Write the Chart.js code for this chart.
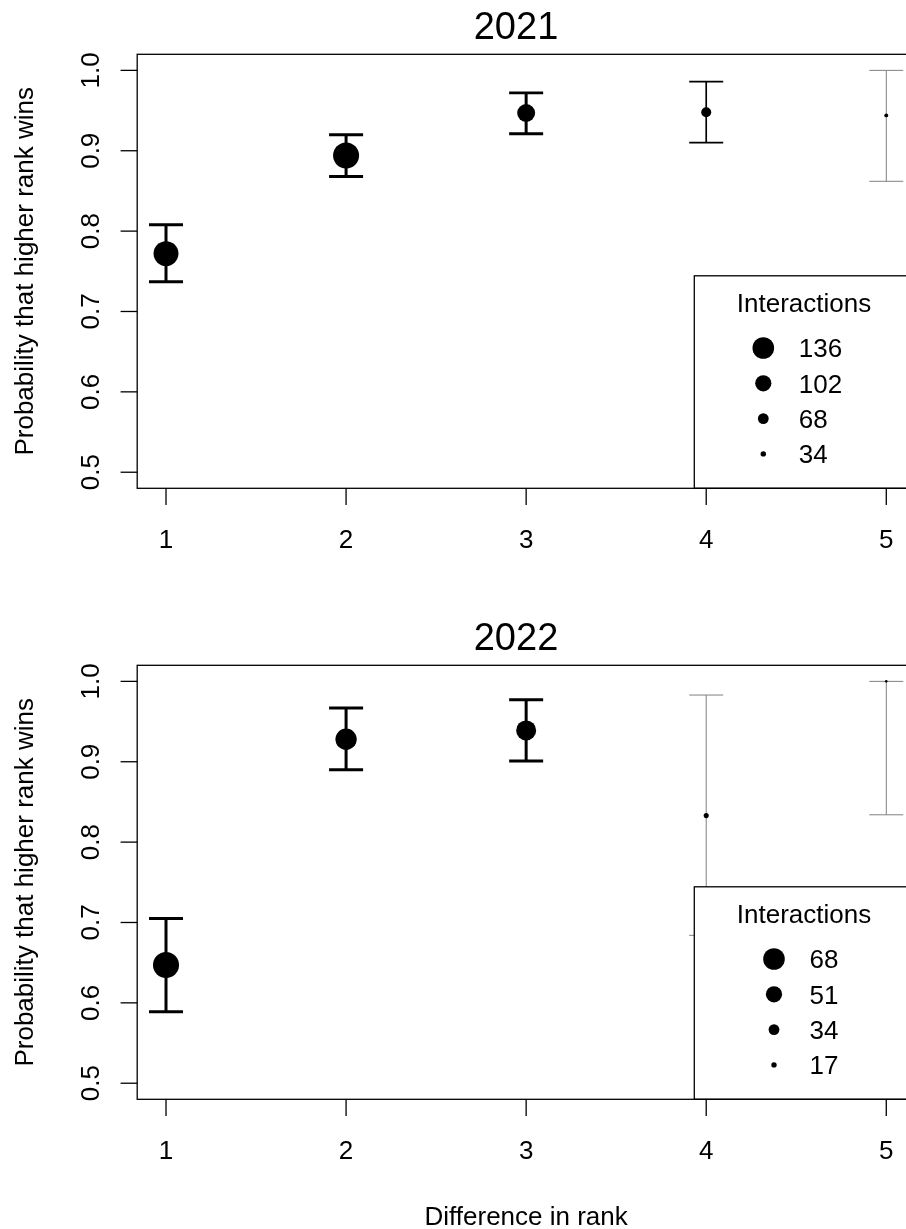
<!DOCTYPE html>
<html>
<head>
<meta charset="utf-8">
<script src="https://cdn.jsdelivr.net/npm/chart.js@4.4.0/dist/chart.umd.min.js"></script>
<style>
  html, body { margin: 0; padding: 0; background: #fff; overflow: hidden; }
  #wrap { position: relative; width: 906px; height: 1229px; overflow: hidden; }
  canvas { position: absolute; left: 0; }
</style>
</head>
<body>
<div id="wrap">
  <canvas id="chart2021" width="906" height="610" style="top:0px"></canvas>
  <canvas id="chart2022" width="906" height="618" style="top:611px"></canvas>
</div>
<script>
const ranks = [1, 2, 3, 4, 5];
const xTicks = [1, 2, 3, 4, 5];
const yTicks = [0.5, 0.6, 0.7, 0.8, 0.9, 1.0];
const yTickLabels = ["0.5", "0.6", "0.7", "0.8", "0.9", "1.0"];

// 2021
const est2021 = [0.772, 0.894, 0.947, 0.948, 0.944];
const lower2021 = [0.737, 0.868, 0.921, 0.910, 0.862];
const upper2021 = [0.808, 0.920, 0.972, 0.986, 1.0];
const interactions2021 = [157, 164, 113, 63, 25];
const legend2021 = [136, 102, 68, 34];

// 2022
const est2022 = [0.647, 0.928, 0.939, 0.833, 1.0];
const lower2022 = [0.589, 0.890, 0.901, 0.684, 0.834];
const upper2022 = [0.705, 0.967, 0.977, 0.983, 1.0];
const interactions2022 = [82, 67, 63, 16, 8];
const legend2022 = [68, 51, 34, 17];

const yTitle = "Probability that higher rank wins";
const xTitle = "Difference in rank";
const legendTitle = "Interactions";

const FONT = '"Liberation Sans", Arial, Helvetica, sans-serif';
const MAX_R = 10.8;
// R pads the 1..5 range by 4% each side; the right part falls off the picture
const X_MIN = 0.84;
const X_FULL_MAX = 5.16;
const X_VISIBLE_MAX = 5.1095;

const rStyle = {
  id: "rStyle",
  beforeDatasetsDraw(chart, args, o) {
    const { ctx, scales: { x, y } } = chart;
    ctx.save();
    ctx.lineCap = "butt";
    o.est.forEach((v, i) => {
      const lw = Math.min(3, (3.6 * o.n[i]) / o.legendMax);
      const px = x.getPixelForValue(ranks[i]);
      const top = y.getPixelForValue(o.hi[i]);
      const bot = y.getPixelForValue(o.lo[i]);
      ctx.lineWidth = lw < 1 ? 1 : lw;
      ctx.strokeStyle = lw < 1 ? "#808080" : "#000";
      ctx.beginPath();
      ctx.moveTo(px, top);
      ctx.lineTo(px, bot);
      ctx.moveTo(px - 17, top);
      ctx.lineTo(px + 17, top);
      ctx.moveTo(px - 17, bot);
      ctx.lineTo(px + 17, bot);
      ctx.stroke();
    });
    ctx.restore();
  },
  afterDraw(chart, args, o) {
    const { ctx, chartArea: a, scales: { x, y } } = chart;
    const plotRight = x.getPixelForValue(X_FULL_MAX);
    ctx.save();
    ctx.fillStyle = "#000";
    ctx.strokeStyle = "#000";

    // legend, bottom right
    const lgLeft = plotRight - 220.8;
    const lgTop = a.bottom - 212.5;
    ctx.fillStyle = "#fff";
    ctx.fillRect(lgLeft, lgTop, plotRight - lgLeft, a.bottom - lgTop);
    ctx.lineWidth = 1.3;
    ctx.strokeRect(lgLeft, lgTop, plotRight - lgLeft, a.bottom - lgTop);
    ctx.fillStyle = "#000";
    ctx.font = `26px ${FONT}`;
    ctx.textAlign = "center";
    ctx.textBaseline = "alphabetic";
    const titleCX = lgLeft + 109.7;
    ctx.fillText(legendTitle, titleCX, lgTop + 36.5);
    const maxW = Math.max(...o.legendVals.map((v) => ctx.measureText(String(v)).width));
    const cx = titleCX - 8.6 - 0.74 * maxW;
    ctx.textAlign = "left";
    o.legendVals.forEach((v, i) => {
      const cy = lgTop + 72.2 + i * 35.3;
      ctx.beginPath();
      ctx.arc(cx, cy, (MAX_R * v) / o.legendMax, 0, Math.PI * 2);
      ctx.fill();
      ctx.fillText(String(v), cx + 35.5, cy + 9.3);
    });

    // plot box
    ctx.lineWidth = 1.3;
    ctx.strokeRect(a.left, a.top, plotRight - a.left, a.bottom - a.top);

    // x axis
    ctx.textAlign = "center";
    xTicks.forEach((v) => {
      const px = x.getPixelForValue(v);
      ctx.beginPath();
      ctx.moveTo(px, a.bottom);
      ctx.lineTo(px, a.bottom + 16.7);
      ctx.stroke();
      ctx.fillText(String(v), px, a.bottom + 59.7);
    });

    // y axis
    yTicks.forEach((v, i) => {
      const py = y.getPixelForValue(v);
      ctx.beginPath();
      ctx.moveTo(a.left - 16.6, py);
      ctx.lineTo(a.left, py);
      ctx.stroke();
      ctx.save();
      ctx.translate(a.left - 38.2, py);
      ctx.rotate(-Math.PI / 2);
      ctx.fillText(yTickLabels[i], 0, 0);
      ctx.restore();
    });

    ctx.save();
    ctx.translate(33.3, (a.top + a.bottom) / 2);
    ctx.rotate(-Math.PI / 2);
    ctx.fillText(yTitle, 0, 0);
    ctx.restore();

    if (o.showXTitle) {
      ctx.fillText(xTitle, (a.left + plotRight) / 2, a.bottom + 125.2);
    }

    ctx.font = `38px ${FONT}`;
    ctx.fillText(o.title, 516, 39.3);
    ctx.restore();
  },
};

const makePanel = (canvasId, title, est, lo, hi, n, legendVals, showXTitle) => {
  const canvas = document.getElementById(canvasId);
  const legendMax = Math.max(...legendVals);
  return new Chart(canvas, {
    type: "scatter",
    data: {
      datasets: [
        {
          data: ranks.map((r, i) => ({ x: r, y: est[i] })),
          pointRadius: n.map((v) => (MAX_R * v) / legendMax),
          pointHoverRadius: n.map((v) => (MAX_R * v) / legendMax),
          backgroundColor: "#000",
          borderWidth: 0,
        },
      ],
    },
    options: {
      responsive: false,
      animation: false,
      devicePixelRatio: 1,
      layout: {
        autoPadding: false,
        padding: {
          left: 137.2,
          right: 0,
          top: 54.3,
          bottom: canvas.height - 488.3,
        },
      },
      scales: {
        x: { type: "linear", min: X_MIN, max: X_VISIBLE_MAX, display: false },
        y: { type: "linear", min: 0.48, max: 1.02, display: false },
      },
      plugins: {
        legend: { display: false },
        tooltip: { enabled: false },
        rStyle: { title, est, lo, hi, n, legendVals, legendMax, showXTitle },
      },
    },
    plugins: [rStyle],
  });
};

makePanel("chart2021", "2021", est2021, lower2021, upper2021, interactions2021, legend2021, false);
makePanel("chart2022", "2022", est2022, lower2022, upper2022, interactions2022, legend2022, true);
</script>
</body>
</html>
